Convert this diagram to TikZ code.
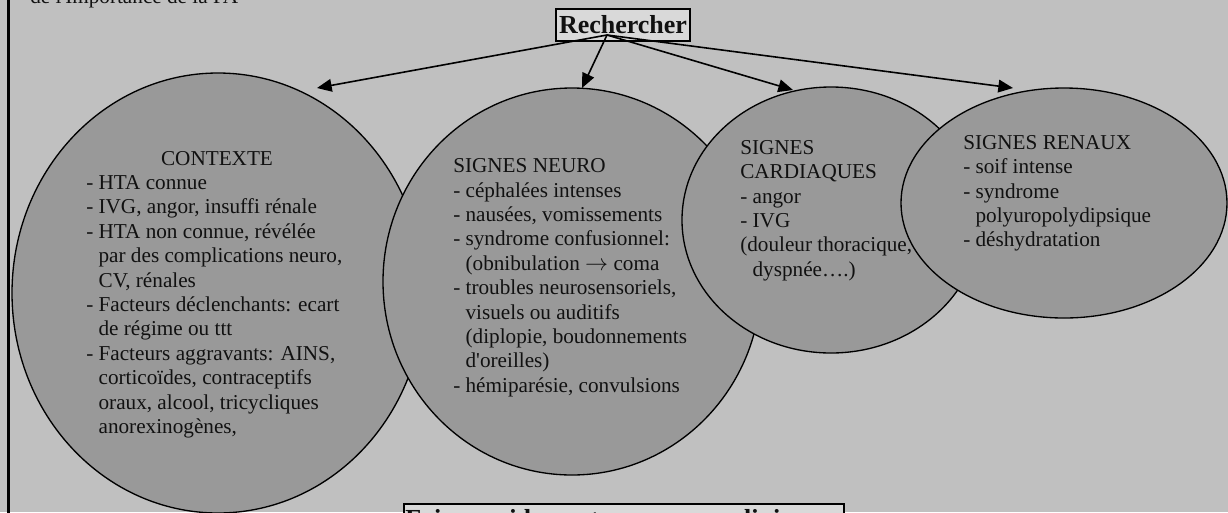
\documentclass[tikz,border=0pt]{standalone}
\usepackage{fontspec}
\setmainfont{Liberation Serif}[Ligatures=TeXOff]
\usetikzlibrary{shapes.geometric,arrows.meta}
\definecolor{bggray}{HTML}{C0C0C0}
\definecolor{ellgray}{HTML}{999999}
\definecolor{boxgray}{HTML}{D9D9D9}
\definecolor{txt}{HTML}{111111}
\tikzset{
  blob/.style={ellipse, draw=black, line width=1pt, fill=ellgray, inner sep=0pt},
  body/.style={anchor=base west, inner sep=0pt, text=txt, font=\fontsize{15.9pt}{18.3pt}\selectfont},
  titlebox/.style={draw=black, line width=1.3pt, fill=boxgray, inner sep=0pt},
  bigbold/.style={font=\fontsize{19.5pt}{23pt}\selectfont\bfseries, text=txt},
  link/.style={line width=1.2pt, -{Triangle[length=11pt,width=9.5pt]}},
}
\newcommand{\ind}{\phantom{- }}
\begin{document}
\begin{tikzpicture}[x=0.75pt,y=-0.75pt]
\useasboundingbox (0,0) rectangle (1228,512);
\clip (0,0) rectangle (1228,512);
\fill[bggray] (0,0) rectangle (1228,512);
\draw[line width=1.7pt] (8.5,-5) -- (8.5,520);

\node[body] (intro) at (30,3) {de l'Importance de la PA};

% CONTEXTE
\node[blob, minimum width=309pt, minimum height=330pt] (ctx) at (218,293) {};
\node[body, anchor=base] (ctxhead) at (217,165) {CONTEXTE};
\node[body] (ctxtxt) at (86,189.5) {\begin{tabular}[t]{@{}l@{}}
- HTA connue\\
- IVG, angor, insuffi rénale\\
- HTA non connue, révélée\\
\ind par des complications neuro,\\
\ind CV, rénales\\
- Facteurs déclenchants: ecart\\
\ind de régime ou ttt\\
- Facteurs aggravants: AINS,\\
\ind corticoïdes, contraceptifs\\
\ind oraux, alcool, tricycliques\\
\ind anorexinogènes,
\end{tabular}};

% SIGNES NEURO
\node[blob, minimum width=283.5pt, minimum height=290.25pt] (neuro) at (572,281.5) {};
\node[body] (neurotxt) at (453,172.7) {\begin{tabular}[t]{@{}l@{}}
SIGNES NEURO\\
- céphalées intenses\\
- nausées, vomissements\\
- syndrome confusionnel:\\
\ind (obnibulation $\rightarrow$ coma\\
- troubles neurosensoriels,\\
\ind visuels ou auditifs\\
\ind (diplopie, boudonnements\\
\ind d'oreilles)\\
- hémiparésie, convulsions
\end{tabular}};

% SIGNES CARDIAQUES
\node[blob, minimum width=223.5pt, minimum height=199.5pt] (cardio) at (831,220) {};
\node[body] (cardiotxt) at (740,154.3) {\begin{tabular}[t]{@{}l@{}}
SIGNES\\
CARDIAQUES\\
- angor\\
- IVG\\
(douleur thoracique,\\
\ind dyspnée….)
\end{tabular}};

% SIGNES RENAUX
\node[blob, minimum width=244.5pt, minimum height=172.5pt] (renal) at (1064,203) {};
\node[body] (renaltxt) at (963,149.3) {\begin{tabular}[t]{@{}l@{}}
SIGNES RENAUX\\
- soif intense\\
- syndrome\\
\ind polyuropolydipsique\\
- déshydratation
\end{tabular}};

% Rechercher
\node[titlebox, bigbold, minimum width=100.5pt, minimum height=24pt] (rech) at (623,25) {Rechercher};

% bottom box
\node[titlebox, anchor=north west, minimum width=330pt, minimum height=30pt] (plan) at (403,503) {};
\node[bigbold, anchor=base west, inner sep=0pt] (plantxt) at (405,527) {Faire rapidement un examen clinique};

% connectors
\coordinate (src) at (607,35);
\coordinate (tctx) at (317,88);
\coordinate (tneuro) at (582,88);
\coordinate (tcardio) at (793,90);
\coordinate (trenal) at (1013,88);
\draw[link] (src) -- (tctx);
\draw[link] (src) -- (tneuro);
\draw[link] (src) -- (tcardio);
\draw[link] (src) -- (trenal);
\end{tikzpicture}
\end{document}
